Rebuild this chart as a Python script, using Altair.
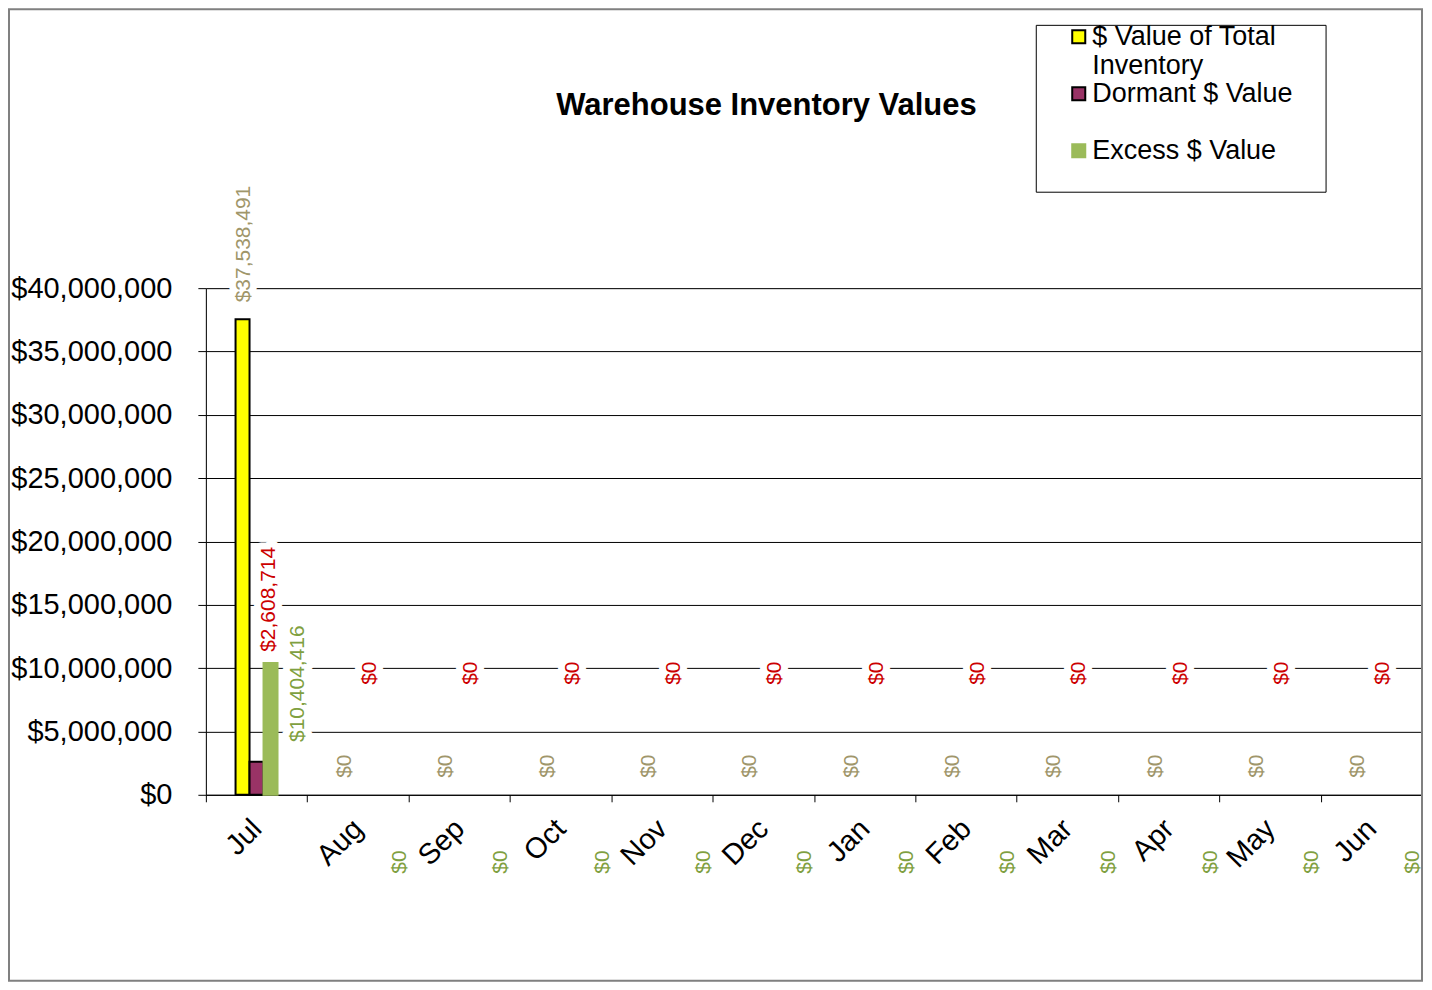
import altair as alt
import pandas as pd

months = ["Jul", "Aug", "Sep", "Oct", "Nov", "Dec", "Jan", "Feb", "Mar", "Apr", "May", "Jun"]
series = ["$ Value of Total Inventory", "Dormant $ Value", "Excess $ Value"]
total_value = [37538491, 0, 0, 0, 0, 0, 0, 0, 0, 0, 0, 0]
dormant_value = [2608714, 0, 0, 0, 0, 0, 0, 0, 0, 0, 0, 0]
excess_value = [10404416, 0, 0, 0, 0, 0, 0, 0, 0, 0, 0, 0]
y_ticks = [0, 5000000, 10000000, 15000000, 20000000, 25000000, 30000000, 35000000, 40000000]

fills = ["#FFFF00", "#993366", "#9BBB59"]
strokes = ["#000000", "#000000", "#9BBB59"]
label_colors = ["#A0966A", "#CC0000", "#7FA040"]
# per-series label displacement (rotated frame: dx = up, dy = right)
label_dx = [17, 110, -79]
label_dy = [1, 12, 28]

rows = []
for s, vals in zip(series, [total_value, dormant_value, excess_value]):
    for m, v in zip(months, vals):
        rows.append({"month": m, "series": s, "value": v})
df = pd.DataFrame(rows)

W, H = 1217, 507
FONT = "Liberation Sans"
STEP = W / len(months)
GROUP = 42

x_enc = alt.X(
    "month:N", sort=months, title=None,
    scale=alt.Scale(paddingInner=0, paddingOuter=0),
    axis=alt.Axis(labelAngle=-45, labelAlign="right", labelBaseline="middle",
                  labelFontSize=29, labelFont=FONT, labelColor="black",
                  labelPadding=22, tickSize=7, tickBand="extent",
                  tickColor="black", domainColor="black", grid=False,
                  labelOverlap=False),
)
y_enc = alt.Y(
    "value:Q", title=None,
    scale=alt.Scale(domain=[0, 40000000], nice=False, zero=True),
    axis=alt.Axis(values=y_ticks, format="$,.0f", labelFontSize=29, labelFont=FONT,
                  labelColor="black", labelPadding=26, tickSize=8, tickColor="black",
                  domainColor="black", gridColor="black", gridWidth=1, gridOpacity=1),
)
xoff = alt.XOffset("series:N", sort=series,
                   scale=alt.Scale(paddingInner=0, paddingOuter=0,
                                   range=[(STEP - GROUP) / 2, (STEP + GROUP) / 2]))

legend = alt.Legend(
    title=None, orient="none", legendX=860, legendY=-265,
    labelFontSize=27, labelFont=FONT, labelColor="black", labelLimit=500,
    symbolType="square", symbolSize=170, symbolStrokeWidth=2, symbolOffset=0,
    labelOffset=0, rowPadding=0,
    labelExpr="datum.label == '$ Value of Total Inventory' ? ['$ Value of Total', 'Inventory'] : [datum.label, '']",
)

base = alt.Chart(df)

bars = base.transform_filter(alt.datum.value > 0).mark_bar(strokeWidth=2).encode(
    x=x_enc, y=y_enc, xOffset=xoff,
    fill=alt.Fill("series:N", sort=series, scale=alt.Scale(domain=series, range=fills), legend=legend),
    stroke=alt.Stroke("series:N", sort=series, scale=alt.Scale(domain=series, range=strokes), legend=legend),
)

text_layers = []
for s, c, ddx, ddy in zip(series, label_colors, label_dx, label_dy):
    sub = base.transform_filter(alt.datum.series == s)
    halo = sub.mark_text(angle=270, align="left", baseline="middle", dx=ddx, dy=ddy,
                         fontSize=21, font=FONT, fill="white", stroke="white",
                         strokeWidth=14, strokeJoin="round").encode(
        x=x_enc, y=y_enc, xOffset=xoff, text=alt.Text("value:Q", format="$,.0f"))
    txt = sub.mark_text(angle=270, align="left", baseline="middle", dx=ddx, dy=ddy,
                        fontSize=21, font=FONT, color=c).encode(
        x=x_enc, y=y_enc, xOffset=xoff, text=alt.Text("value:Q", format="$,.0f"))
    text_layers += [halo, txt]

dummy = alt.Chart(pd.DataFrame({"k": [0]}))
frame = dummy.mark_rect(fillOpacity=0, stroke="#808080", strokeWidth=2).encode(
    x=alt.value(-197), x2=alt.value(W), y=alt.value(-279), y2=alt.value(H + 186))
legend_box = dummy.mark_rect(fillOpacity=0, stroke="black", strokeWidth=1).encode(
    x=alt.value(831), x2=alt.value(1121), y=alt.value(-263), y2=alt.value(-96))
title = dummy.mark_text(text="Warehouse Inventory Values", fontSize=31, fontWeight="bold",
                        font=FONT, color="black", align="center", baseline="middle").encode(
    x=alt.value(561), y=alt.value(-182))

chart = alt.layer(bars, *text_layers, frame, legend_box, title).properties(
    width=W, height=H, padding=0,
).configure_view(stroke=None).configure(font=FONT)

chart.save("out.html", embed_options={"renderer": "svg", "actions": False})
